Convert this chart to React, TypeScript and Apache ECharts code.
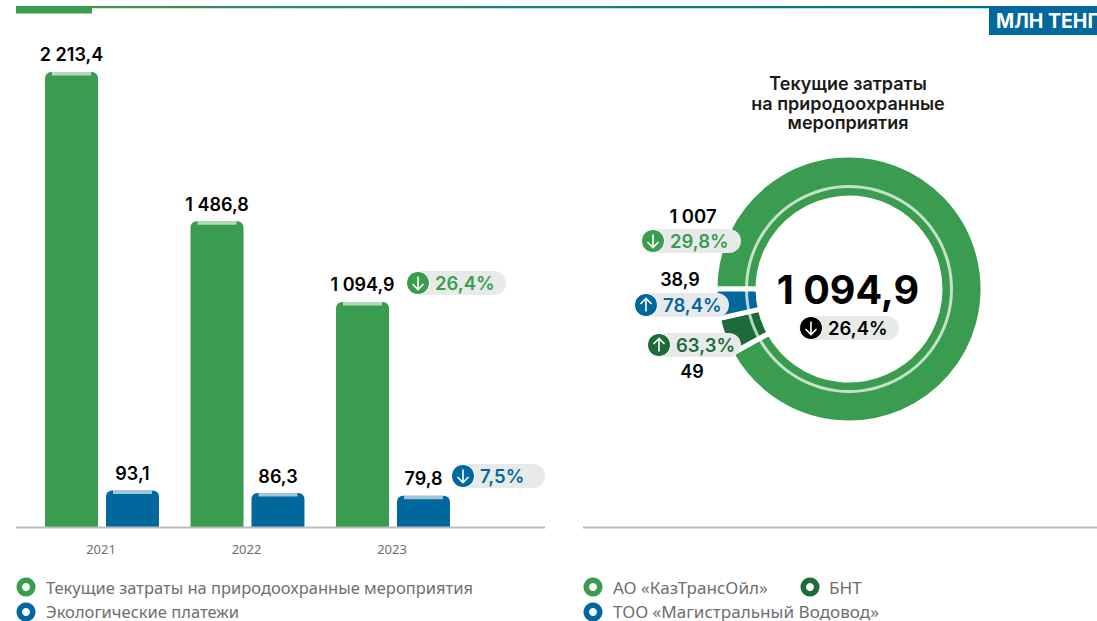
import React, { useEffect, useRef } from "react";
import * as echarts from "echarts";

const years = ["2021", "2022", "2023"];
const currentCosts = [2213.4, 1486.8, 1094.9];
const currentLabels = ["2 213,4", "1 486,8", "1 094,9"];
const ecoPayments = [93.1, 86.3, 79.8];
const ecoLabels = ["93,1", "86,3", "79,8"];
const donutNames = ["АО «КазТрансОйл»", "БНТ", "ТОО «Магистральный Водовод»"];
const donutValues = [1007, 49, 38.9];
const legendLeft = ["Текущие затраты на природоохранные мероприятия", "Экологические платежи"];

const GREEN = "#3a9c4f";
const BLUE = "#00689d";
const DARK = "#1c6b38";
const PILL = "#e8eaea";
const FONT = "Inter, sans-serif";
const LEGEND_FONT = "'Noto Sans', sans-serif";

function text(t: string, x: number, y: number, size: number, fill: string, weight = 600, align = "center", font = FONT) {
  return {
    type: "text", z: 20,
    style: { text: t, x, y, fill, font: `${weight} ${size}px ${font}`, textAlign: align, textVerticalAlign: "middle" },
  };
}

function pill(x: number, y: number, w: number, label: string, color: string, up: boolean, textX: number) {
  const h = 24;
  const cx = x + 12;
  const cy = y + h / 2;
  const d = up ? -1 : 1;
  return [
    { type: "rect", z: 15, shape: { x: x + 4, y, width: w - 4, height: h, r: 12 }, style: { fill: PILL } },
    { type: "circle", z: 16, shape: { cx, cy, r: 11.5 }, style: { fill: color, stroke: "#fff", lineWidth: 1 } },
    { type: "line", z: 17, shape: { x1: cx, y1: cy - 6.5 * d, x2: cx, y2: cy + 6.5 * d }, style: { stroke: "#fff", lineWidth: 1.6 } },
    { type: "polyline", z: 17, shape: { points: [[cx - 5.5, cy + 1 * d], [cx, cy + 6.5 * d], [cx + 5.5, cy + 1 * d]] }, style: { stroke: "#fff", lineWidth: 1.6, fill: "none" } },
    text(label, textX, cy, 18.5, color, 600, "left"),
  ];
}

function ringMark(cx: number, cy: number, color: string) {
  return { type: "ring", z: 10, shape: { cx, cy, r: 9.5, r0: 4 }, style: { fill: color } };
}

function strip(offset: number) {
  return (params: any, api: any) => {
    const p = api.coord([api.value(0), api.value(1)]);
    return { type: "rect", shape: { x: p[0] + offset - 19.5, y: p[1], width: 39, height: 3.5 }, style: { fill: "rgba(255,255,255,0.62)" } };
  };
}

export default function App() {
  const ref = useRef<HTMLDivElement>(null);
  useEffect(() => {
    const chart = echarts.init(ref.current!, undefined, { renderer: "svg" });
    const graphic: any[] = [
      { type: "rect", shape: { x: 16, y: 6, width: 975, height: 2.2 }, style: { fill: new echarts.graphic.LinearGradient(0, 0, 1, 0, [{ offset: 0, color: GREEN }, { offset: 1, color: BLUE }]) } },
      { type: "rect", shape: { x: 16, y: 6, width: 76, height: 7.5 }, style: { fill: GREEN } },
      { type: "rect", shape: { x: 989, y: 6, width: 108, height: 29 }, style: { fill: BLUE } },
      text("МЛН ТЕНГЕ", 996, 21, 19.5, "#fff", 700, "left"),
      { type: "line", shape: { x1: 16, y1: 527.5, x2: 545, y2: 527.5 }, style: { stroke: "#b9bdbd", lineWidth: 2 }, z: 8 },
      { type: "line", shape: { x1: 583, y1: 527.5, x2: 1097, y2: 527.5 }, style: { stroke: "#b9bdbd", lineWidth: 2 }, z: 8 },
      text("Текущие затраты", 848, 83, 18, "#1a1a1a"),
      text("на природоохранные", 848, 103, 18, "#1a1a1a"),
      text("мероприятия", 848, 122, 18, "#1a1a1a"),
      text("1 094,9", 848, 290, 39.5, "#000", 700),
      text("1 007", 693, 216, 18.5, "#000"),
      text("38,9", 680, 279, 18, "#000"),
      text("49", 692, 371, 18, "#000"),
      ...pill(406, 271, 100, "26,4%", GREEN, false, 435),
      ...pill(451, 464, 94, "7,5%", BLUE, false, 480),
      ...pill(641, 229, 100, "29,8%", GREEN, false, 670),
      ...pill(634, 293, 95, "78,4%", BLUE, true, 663),
      ...pill(647, 333, 94, "63,3%", DARK, true, 676),
      ...pill(799, 316, 100, "26,4%", "#000", false, 828),
      ringMark(26, 587, GREEN),
      ringMark(26, 612, BLUE),
      text(legendLeft[0], 46, 587, 16.5, "#6d6f70", 400, "left", LEGEND_FONT),
      text(legendLeft[1], 46, 611, 16.5, "#6d6f70", 400, "left", LEGEND_FONT),
      ringMark(593, 587, GREEN),
      ringMark(593, 612, BLUE),
      ringMark(810, 587, DARK),
      text(donutNames[0], 613, 587, 17.1, "#6d6f70", 400, "left", LEGEND_FONT),
      text(donutNames[1], 829, 587, 17.1, "#6d6f70", 400, "left", LEGEND_FONT),
      text(donutNames[2], 613, 611, 17.1, "#6d6f70", 400, "left", LEGEND_FONT),
    ];
    const barLabel = (labels: string[]) => ({
      show: true,
      position: "top" as const,
      distance: 8,
      color: "#000",
      fontFamily: FONT,
      fontWeight: 600,
      fontSize: 18,
      formatter: (p: any) => labels[p.dataIndex],
    });
    chart.setOption({
      animation: false,
      grid: { left: 29.25, width: 436.5, top: 27, height: 500, containLabel: false },
      xAxis: {
        type: "category",
        data: years,
        axisLine: { show: false },
        axisTick: { show: false },
        axisLabel: { color: "#6d6f70", fontSize: 13, fontFamily: LEGEND_FONT, margin: 15, padding: [0, 2, 0, 0] },
      },
      yAxis: [
        { type: "value", min: 0, max: 2432, show: false },
        { type: "value", min: 0, max: 1272, show: false },
      ],
      series: [
        { type: "bar", name: legendLeft[0], data: currentCosts, yAxisIndex: 0, barWidth: 53, barGap: "15%", itemStyle: { color: GREEN, borderRadius: [6, 6, 0, 0] }, label: barLabel(currentLabels) },
        { type: "bar", name: legendLeft[1], data: ecoPayments, yAxisIndex: 1, barWidth: 53, barGap: "15%", itemStyle: { color: BLUE, borderRadius: [6, 6, 0, 0] }, label: barLabel(ecoLabels) },
        { type: "custom", yAxisIndex: 0, data: currentCosts.map((v, i) => [i, v]), renderItem: strip(-30.5), z: 5, silent: true },
        { type: "custom", yAxisIndex: 1, data: ecoPayments.map((v, i) => [i, v]), renderItem: strip(30.5), z: 5, silent: true },
        {
          type: "pie", center: [849, 289], radius: [91, 134], startAngle: 180, clockwise: true, silent: true,
          label: { show: false }, labelLine: { show: false },
          itemStyle: { borderColor: "#fff", borderWidth: 5 },
          data: [
            { name: donutNames[0], value: donutValues[0], itemStyle: { color: GREEN } },
            { name: donutNames[1], value: donutValues[1], itemStyle: { color: DARK } },
            { name: donutNames[2], value: donutValues[2], itemStyle: { color: BLUE } },
          ],
        },
        {
          type: "pie", center: [849, 289], radius: [101, 104], silent: true, z: 6,
          label: { show: false }, labelLine: { show: false },
          itemStyle: { color: "rgba(255,255,255,0.7)" },
          data: [{ value: 1, name: "" }],
        },
      ],
      graphic,
    });
    return () => chart.dispose();
  }, []);
  return <div ref={ref} style={{ position: "absolute", left: 0, top: 0, width: 1097, height: 621 }} />;
}
